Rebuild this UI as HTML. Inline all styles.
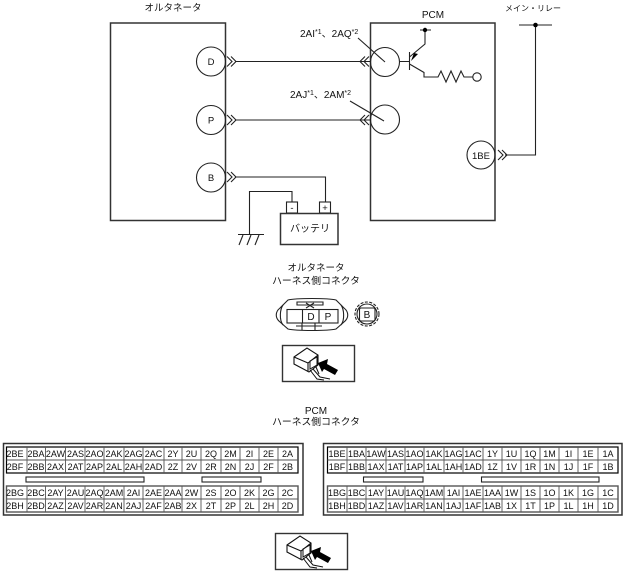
<!DOCTYPE html>
<html><head><meta charset="utf-8"><style>
html,body{margin:0;padding:0;background:#fff}
svg{display:block}
text{font-family:"Liberation Sans","Noto Sans CJK JP",sans-serif;font-size:9.500px;fill:#111}
.c{text-anchor:middle}
.k{font-size:9.500px}
.m{font-size:8px}
.lab{font-size:10px}
.s{font-size:7px}
.l{fill:none;stroke:#222;stroke-width:1.100}
.b{fill:none;stroke:#333;stroke-width:1.500}
.t text{text-anchor:middle;font-size:9px}
</style></head><body>
<svg xmlns="http://www.w3.org/2000/svg" xmlns:xlink="http://www.w3.org/1999/xlink" width="625" height="573" viewBox="0 0 625 573">
<defs>
<g id="icon">
<rect x="0.500" y="0.500" width="72" height="36" fill="#fff" stroke="#333" stroke-width="1.400"/>
<path d="M12 12 L25 3 L36 10 L36 20 L27 27 L12 19 Z M12 12 L26 18 L36 10 M26 18 V27" fill="#fff" stroke="#111" stroke-width="1.100"/>
<path d="M28 16 L35 12 V20 L28 24 Z" fill="none" stroke="#111"/>
<path d="M28 25 L35 34 L42 35 M31 24 L38 32 L48 34 M34 22 L37 29" fill="none" stroke="#111"/>
<path d="M36 18 L46 14 L45 19 L56 25 L53 30 L42 24 L40 27 Z" fill="#000"/>
</g>
<path id="chev" d="M1 -5 L6 0 L1 5 M5 -5 L10 0 L5 5" fill="none" stroke="#222" stroke-width="1.100"/>
<path id="chevl" d="M9 -5 L4 0 L9 5 M5 -5 L0 0 L5 5" fill="none" stroke="#222" stroke-width="1.100"/>
</defs>

<text class="c k" x="173" y="11">オルタネータ</text>
<text class="c lab" x="433" y="18">PCM</text>
<text class="c m" x="533" y="11">メイン・リレー</text>

<rect x="110.500" y="23" width="115" height="197.500" class="b"/>
<rect x="370.500" y="23" width="124.500" height="197.500" class="b"/>

<circle cx="211" cy="61.500" r="14.500" class="l"/>
<circle cx="211" cy="120" r="14.500" class="l"/>
<circle cx="211" cy="177.500" r="14.500" class="l"/>
<text class="c" x="211" y="65">D</text>
<text class="c" x="211" y="123.500">P</text>
<text class="c" x="211" y="181">B</text>

<use xlink:href="#chev" href="#chev" x="226" y="61.500"/>
<use xlink:href="#chev" href="#chev" x="226" y="120"/>
<use xlink:href="#chev" href="#chev" x="226" y="177"/>
<use xlink:href="#chevl" href="#chevl" x="360" y="61.500"/>
<use xlink:href="#chevl" href="#chevl" x="360" y="120"/>
<path d="M235 61.500 H370 M235 120 H370" class="l"/>

<circle cx="385" cy="62" r="14.500" class="l"/>
<circle cx="385" cy="119.500" r="14.500" class="l"/>
<path d="M358 38 L385 62 M350 101 L384 121" class="l" stroke-width="1.300"/>
<text class="lab" x="300" y="37">2AI<tspan class="s" dy="-3">*1</tspan><tspan dy="3">、2AQ</tspan><tspan class="s" dy="-3">*2</tspan></text>
<text class="lab" x="290" y="98">2AJ<tspan class="s" dy="-3">*1</tspan><tspan dy="3">、2AM</tspan><tspan class="s" dy="-3">*2</tspan></text>

<path d="M399.500 61.500 H409.500 M409.500 52 V70 M409.500 57 L425 44 V30 M420 30 H431 M409.500 64 L424 72.500 V77 H438 L441 71 L446 82 L451 71 L456 82 L461 71 L464 77 H472.500" class="l"/>
<path d="M411 61 L418 54 L414 53 Z" fill="#000"/>
<circle cx="425" cy="30" r="2.200" fill="#000"/>
<circle cx="477" cy="77" r="4.200" class="l"/>

<path d="M519 25 H552 M535.500 25 V155 H505" class="l"/>
<circle cx="535.500" cy="25" r="2.300" fill="#000"/>
<circle cx="481" cy="155" r="14" class="l"/>
<text class="c" x="481" y="159">1BE</text>
<use xlink:href="#chev" href="#chev" x="497" y="155"/>

<path d="M235 177 H325.500 V202 M292 202 V191.500 H249.500 V234 M238 234.500 H264 M243 235 L239 245 M251 235 L247 245 M259 235 L255 245" class="l"/>
<rect x="286.500" y="202" width="11" height="11" class="l"/>
<rect x="319.500" y="202" width="11" height="11" class="l"/>
<text class="c" x="292" y="211">-</text>
<text class="c" x="325" y="211">+</text>
<rect x="280.500" y="213.500" width="57.500" height="31" class="b"/>
<text class="c" x="310" y="232" style="font-size:10px">バッテリ</text>

<text class="c k" x="316" y="271">オルタネータ</text>
<text class="c" x="316" y="284" style="font-size:9.800px">ハーネス側コネクタ</text>

<path d="M288 300 C296 298 328 298 336 300 L344 308 C349 312 349 318 344 322 L336 329 C328 331 296 331 288 329 L280 322 C275 318 275 312 280 308 Z" class="l" stroke-width="1.300"/>
<path d="M283 305 C280 309 279 320 283 325 M341 305 C344 309 345 320 341 325" class="l"/>
<path d="M297 302 H323 V305 H297 Z" class="l"/>
<path d="M302 323 V330 M315 323 V330 M296 326 H322" class="l"/>
<path d="M306 303 L314 308 M314 303 L306 308" class="l"/>
<rect x="287" y="309.500" width="51" height="13.500" class="l" stroke-width="1.300"/>
<path d="M302.500 309.500 V323 M319 309.500 V323" class="l"/>
<text class="c" x="311" y="320" style="font-size:10px">D</text>
<text class="c" x="328" y="320" style="font-size:10px">P</text>
<circle cx="367" cy="314" r="12" class="l" stroke-dasharray="3 1.500"/>
<circle cx="367" cy="314" r="10" class="l"/>
<rect x="359.500" y="308" width="15.500" height="13" rx="1.500" class="l"/>
<text class="c" x="367" y="318" style="font-size:10px">B</text>

<use xlink:href="#icon" href="#icon" x="282" y="345"/>

<text class="c lab" x="316" y="414">PCM</text>
<text class="c" x="316" y="425" style="font-size:9.800px">ハーネス側コネクタ</text>

<!-- left connector -->
<rect x="3.500" y="443.500" width="299.500" height="71.500" class="b"/>
<rect x="6.500" y="447" width="291.500" height="26" fill="none" stroke="#000" stroke-width="1.200"/>
<rect x="6.500" y="486" width="291.500" height="26" fill="none" stroke="#555" stroke-width="1.400"/>
<path d="M6.500 460 H298 M6.500 499 H298 M27 447 V473 M45.500 447 V473 M65.500 447 V473 M85 447 V473 M104 447 V473 M124 447 V473 M143 447 V473 M164 447 V473 M182 447 V473 M201 447 V473 M221 447 V473 M240 447 V473 M259 447 V473 M278 447 V473 M27 486 V512 M45.500 486 V512 M65.500 486 V512 M85 486 V512 M104 486 V512 M124 486 V512 M143 486 V512 M164 486 V512 M182 486 V512 M201 486 V512 M221 486 V512 M240 486 V512 M259 486 V512 M278 486 V512" stroke="#555" stroke-width="0.900" fill="none"/>
<rect x="26" y="477" width="118" height="5" class="l"/>
<rect x="202" y="477" width="59" height="5" class="l"/>
<g class="t">
<text x="15" y="457">2BE</text><text x="36" y="457">2BA</text><text x="55.500" y="457">2AW</text><text x="75.500" y="457">2AS</text><text x="94.500" y="457">2AO</text><text x="114" y="457">2AK</text><text x="133.500" y="457">2AG</text><text x="153.500" y="457">2AC</text><text x="173" y="457">2Y</text><text x="191.500" y="457">2U</text><text x="211" y="457">2Q</text><text x="230.500" y="457">2M</text><text x="249.500" y="457">2I</text><text x="268.500" y="457">2E</text><text x="287.500" y="457">2A</text>
<text x="15" y="470">2BF</text><text x="36" y="470">2BB</text><text x="55.500" y="470">2AX</text><text x="75.500" y="470">2AT</text><text x="94.500" y="470">2AP</text><text x="114" y="470">2AL</text><text x="133.500" y="470">2AH</text><text x="153.500" y="470">2AD</text><text x="173" y="470">2Z</text><text x="191.500" y="470">2V</text><text x="211" y="470">2R</text><text x="230.500" y="470">2N</text><text x="249.500" y="470">2J</text><text x="268.500" y="470">2F</text><text x="287.500" y="470">2B</text>
<text x="15" y="496">2BG</text><text x="36" y="496">2BC</text><text x="55.500" y="496">2AY</text><text x="75.500" y="496">2AU</text><text x="94.500" y="496">2AQ</text><text x="114" y="496">2AM</text><text x="133.500" y="496">2AI</text><text x="153.500" y="496">2AE</text><text x="173" y="496">2AA</text><text x="191.500" y="496">2W</text><text x="211" y="496">2S</text><text x="230.500" y="496">2O</text><text x="249.500" y="496">2K</text><text x="268.500" y="496">2G</text><text x="287.500" y="496">2C</text>
<text x="15" y="509">2BH</text><text x="36" y="509">2BD</text><text x="55.500" y="509">2AZ</text><text x="75.500" y="509">2AV</text><text x="94.500" y="509">2AR</text><text x="114" y="509">2AN</text><text x="133.500" y="509">2AJ</text><text x="153.500" y="509">2AF</text><text x="173" y="509">2AB</text><text x="191.500" y="509">2X</text><text x="211" y="509">2T</text><text x="230.500" y="509">2P</text><text x="249.500" y="509">2L</text><text x="268.500" y="509">2H</text><text x="287.500" y="509">2D</text>
</g>

<!-- right connector -->
<rect x="323.500" y="443.500" width="298.500" height="71.500" class="b"/>
<rect x="327.500" y="447" width="290.500" height="26" fill="none" stroke="#000" stroke-width="1.200"/>
<rect x="327.500" y="486" width="290.500" height="26" fill="none" stroke="#555" stroke-width="1.400"/>
<path d="M327.500 460 H618 M327.500 499 H618 M347 447 V473 M366 447 V473 M386 447 V473 M405 447 V473 M424 447 V473 M444 447 V473 M463 447 V473 M483 447 V473 M502 447 V473 M521 447 V473 M540 447 V473 M559 447 V473 M578 447 V473 M598 447 V473 M347 486 V512 M366 486 V512 M386 486 V512 M405 486 V512 M424 486 V512 M444 486 V512 M463 486 V512 M483 486 V512 M502 486 V512 M521 486 V512 M540 486 V512 M559 486 V512 M578 486 V512 M598 486 V512" stroke="#555" stroke-width="0.900" fill="none"/>
<rect x="363.500" y="477" width="59.500" height="5" class="l"/>
<rect x="481.500" y="477" width="117.500" height="5" class="l"/>
<g class="t">
<text x="337" y="457">1BE</text><text x="356.500" y="457">1BA</text><text x="376" y="457">1AW</text><text x="395.500" y="457">1AS</text><text x="414.500" y="457">1AO</text><text x="434" y="457">1AK</text><text x="453.500" y="457">1AG</text><text x="473" y="457">1AC</text><text x="492.500" y="457">1Y</text><text x="511.500" y="457">1U</text><text x="530.500" y="457">1Q</text><text x="549.500" y="457">1M</text><text x="568.500" y="457">1I</text><text x="588" y="457">1E</text><text x="608" y="457">1A</text>
<text x="337" y="470">1BF</text><text x="356.500" y="470">1BB</text><text x="376" y="470">1AX</text><text x="395.500" y="470">1AT</text><text x="414.500" y="470">1AP</text><text x="434" y="470">1AL</text><text x="453.500" y="470">1AH</text><text x="473" y="470">1AD</text><text x="492.500" y="470">1Z</text><text x="511.500" y="470">1V</text><text x="530.500" y="470">1R</text><text x="549.500" y="470">1N</text><text x="568.500" y="470">1J</text><text x="588" y="470">1F</text><text x="608" y="470">1B</text>
<text x="337" y="496">1BG</text><text x="356.500" y="496">1BC</text><text x="376" y="496">1AY</text><text x="395.500" y="496">1AU</text><text x="414.500" y="496">1AQ</text><text x="434" y="496">1AM</text><text x="453.500" y="496">1AI</text><text x="473" y="496">1AE</text><text x="492.500" y="496">1AA</text><text x="511.500" y="496">1W</text><text x="530.500" y="496">1S</text><text x="549.500" y="496">1O</text><text x="568.500" y="496">1K</text><text x="588" y="496">1G</text><text x="608" y="496">1C</text>
<text x="337" y="509">1BH</text><text x="356.500" y="509">1BD</text><text x="376" y="509">1AZ</text><text x="395.500" y="509">1AV</text><text x="414.500" y="509">1AR</text><text x="434" y="509">1AN</text><text x="453.500" y="509">1AJ</text><text x="473" y="509">1AF</text><text x="492.500" y="509">1AB</text><text x="511.500" y="509">1X</text><text x="530.500" y="509">1T</text><text x="549.500" y="509">1P</text><text x="568.500" y="509">1L</text><text x="588" y="509">1H</text><text x="608" y="509">1D</text>
</g>

<use xlink:href="#icon" href="#icon" x="275" y="533"/>
</svg>
</body></html>
